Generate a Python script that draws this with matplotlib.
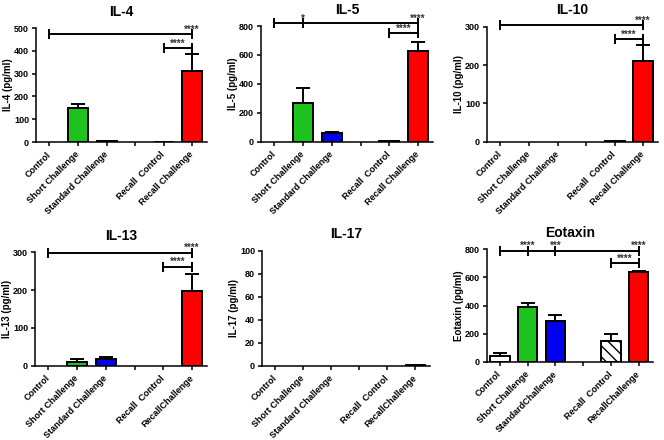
import matplotlib.pyplot as plt

plt.rcParams['font.family'] = ['Liberation Sans', 'DejaVu Sans']
plt.rcParams['font.weight'] = 'bold'
plt.rcParams['axes.labelweight'] = 'bold'
plt.rcParams['axes.titleweight'] = 'bold'
plt.rcParams['hatch.linewidth'] = 1.0

# bar positions (gap at 3), tick labels
pos = [0, 1, 2, 4, 5]
ticks = [0, 1, 2, 3, 4, 5]
labels_a = ['Control', 'Short Challenge', 'Standard Challenge', '', 'Recall  Control', 'Recall Challenge']
labels_b = ['Control', 'Short Challenge', 'Standard Challenge', '', 'Recall  Control', 'RecallChallenge']
labels_c = ['Control', 'Short Challenge', 'StandardChallenge', '', 'Recall  Control', 'RecallChallenge']

colors = ['white', '#1ec41e', '#0000f2', 'white', '#ff0000']
hatches = ['', '', '', '\\\\\\', '']

# values (pg/ml) and upper SEM
il4 = [0, 148, 3, 1, 313]
il4_err = [0, 18, 2, 0, 73]
il5 = [0, 270, 58, 3, 627]
il5_err = [0, 100, 11, 0, 62]
il10 = [0, 0, 0, 1, 210]
il10_err = [0, 0, 0, 0, 42]
il13 = [0, 10.6, 16.8, 0, 198]
il13_err = [0, 7, 7, 0, 45]
il17 = [0, 0, 0, 0, 0.6]
il17_err = [0, 0, 0, 0, 0]
eot = [40, 392, 290, 147, 641]
eot_err = [20, 28, 45, 48, 7]

# significance brackets: (y, bracket ticks, [(x, stars)])
il4_sig = [(473, [0, 5], [(5, '****')]), (412, [4, 5], [(4.5, '****')])]
il5_sig = [(818, [0, 1, 5], [(1, '*'), (5, '****')]), (749, [4, 5], [(4.5, '****')])]
il10_sig = [(304, [0, 5], [(5, '****')]), (267, [4, 5], [(4.5, '****')])]
il13_sig = [(299, [0, 5], [(5, '****')]), (262, [4, 5], [(4.5, '****')])]
il17_sig = []
eot_sig = [(791, [0, 1, 2, 5], [(1, '****'), (2, '***'), (5, '****')]),
           (700, [4, 5], [(4.5, '****')])]

panels = [
    ('IL-4', 'IL-4 (pg/ml)', il4, il4_err, il4_sig, 500, 100, labels_a, (36, 142, 207, 28)),
    ('IL-5', 'IL-5 (pg/ml)', il5, il5_err, il5_sig, 800, 200, labels_a, (261, 141.7, 433, 26)),
    ('IL-10', 'IL-10 (pg/ml)', il10, il10_err, il10_sig, 300, 100, labels_a, (487, 141.7, 658, 26.7)),
    ('IL-13', 'IL-13 (pg/ml)', il13, il13_err, il13_sig, 300, 100, labels_b, (35, 365.7, 207, 252.3)),
    ('IL-17', 'IL-17 (pg/ml)', il17, il17_err, il17_sig, 100, 20, labels_b, (262, 365.7, 430, 250.7)),
    ('Eotaxin', 'Eotaxin (pg/ml)', eot, eot_err, eot_sig, 800, 200, labels_c, (487, 361.7, 653, 249.3)),
]

W, H = 664, 440
fig = plt.figure(figsize=(W / 100, H / 100), dpi=100)

for title, ylab, vals, errs, sig, ymax, ystep, labels, box in panels:
    l, b, r, t = box
    ax = fig.add_axes([l / W, 1 - b / H, (r - l) / W, (b - t) / H])
    lws = [1.4 if v > 0 else 0 for v in vals]
    ax.bar(pos, vals, width=0.7, color=colors, edgecolor='black',
           linewidth=lws, hatch=hatches, zorder=3)
    for x, v, e in zip(pos, vals, errs):
        if e > 0:
            ax.errorbar(x, v, yerr=[[0], [e]], fmt='none', ecolor='black',
                        elinewidth=1.4, capsize=5, capthick=1.4, zorder=2)
    for y, xs, stars in sig:
        ax.plot([xs[0], xs[-1]], [y, y], color='black', lw=1.4, clip_on=False)
        ax.plot(xs, [y] * len(xs), ls='none', marker='|', ms=7, mew=1.4,
                color='black', clip_on=False)
        for sx, s in stars:
            ax.annotate(s, (sx, y), xytext=(0, 1), textcoords='offset points',
                        ha='center', va='baseline', fontsize=7, color='#333333',
                        annotation_clip=False)
    ax.set_xlim(-0.47, 5.52)
    ax.set_ylim(0, ymax)
    ax.set_yticks(range(0, ymax + 1, ystep))
    ax.set_xticks(ticks)
    ax.set_xticklabels(labels, rotation=45, ha='right', va='center',
                       rotation_mode='anchor', fontsize=6.5)
    ax.tick_params(axis='y', labelsize=6.5)
    ax.tick_params(direction='out', length=3, width=1.1, pad=2)
    ax.tick_params(axis='x', pad=5)
    for s in ['top', 'right']:
        ax.spines[s].set_visible(False)
    for s in ['left', 'bottom']:
        ax.spines[s].set_linewidth(1.1)
    ax.set_ylabel(ylab, fontsize=7, labelpad=0.5)
    ax.set_title(title, fontsize=10, pad=9)

fig.savefig('out.png', dpi=100)
